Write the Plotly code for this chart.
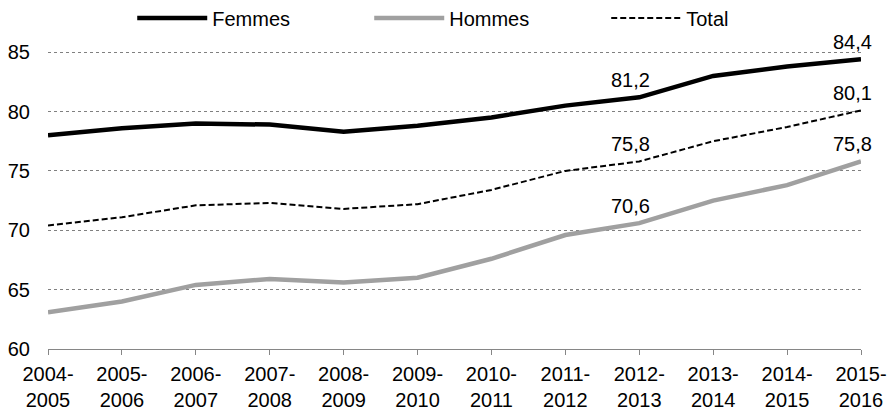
import plotly.graph_objects as go

categories = ["2004-2005", "2005-2006", "2006-2007", "2007-2008", "2008-2009", "2009-2010",
              "2010-2011", "2011-2012", "2012-2013", "2013-2014", "2014-2015", "2015-2016"]
tick_labels = [c.replace("-", "-<br>") for c in categories]
femmes = [78.0, 78.6, 79.0, 78.9, 78.3, 78.8, 79.5, 80.5, 81.2, 83.0, 83.8, 84.4]
hommes = [63.1, 64.0, 65.4, 65.9, 65.6, 66.0, 67.6, 69.6, 70.6, 72.5, 73.8, 75.8]
total = [70.4, 71.1, 72.1, 72.3, 71.8, 72.2, 73.4, 75.0, 75.8, 77.5, 78.7, 80.1]

# labelled points: (series, index)
labelled = [(femmes, 8), (femmes, 11), (total, 8), (total, 11), (hommes, 8), (hommes, 11)]

font = "Liberation Sans, Arial, sans-serif"
fs = 20
fig = go.Figure()
fig.add_trace(go.Scatter(x=categories, y=femmes, name="Femmes", mode="lines",
                         line=dict(color="#000000", width=4.5)))
fig.add_trace(go.Scatter(x=categories, y=hommes, name="Hommes", mode="lines",
                         line=dict(color="#A0A0A0", width=4.5)))
fig.add_trace(go.Scatter(x=categories, y=total, name="Total", mode="lines",
                         line=dict(color="#000000", width=2, dash="6px,3px")))

for series, i in labelled:
    fig.add_annotation(x=categories[i], y=series[i], text=f"{series[i]:.1f}".replace(".", ","),
                       showarrow=False, yshift=17, xshift=-9,
                       font=dict(family=font, size=fs, color="#000000"))

fig.update_layout(
    template="none",
    width=892, height=411,
    margin=dict(l=48, r=31, t=51, b=62, autoexpand=False),
    paper_bgcolor="white", plot_bgcolor="white",
    font=dict(family=font, size=fs, color="#000000"),
    showlegend=True,
    legend=dict(orientation="h", x=0.1036, xanchor="left", yref="container", y=0.956,
                yanchor="middle",
                entrywidth=152, entrywidthmode="pixels", itemwidth=70,
                font=dict(family=font, size=fs), bgcolor="rgba(0,0,0,0)"),
    xaxis=dict(type="category", range=[0, 11], tickvals=categories, ticktext=tick_labels,
               automargin=False,
               showgrid=False, showline=True, linecolor="#868686", linewidth=1,
               ticks="outside", ticklen=5, tickcolor="#868686", zeroline=False,
               ticklabelstandoff=2,
               tickfont=dict(family=font, size=fs)),
    yaxis=dict(range=[60, 85.1], tickvals=[60, 65, 70, 75, 80, 85], showgrid=True,
               automargin=False,
               gridcolor="#808080", griddash="dot", gridwidth=1, zeroline=False,
               showline=False, ticks="", ticklabelstandoff=17,
               tickfont=dict(family=font, size=fs)),
)
fig.write_html("out.html", config={"displayModeBar": False},
               post_script="document.body.style.margin='0';document.body.style.overflow='hidden';")
